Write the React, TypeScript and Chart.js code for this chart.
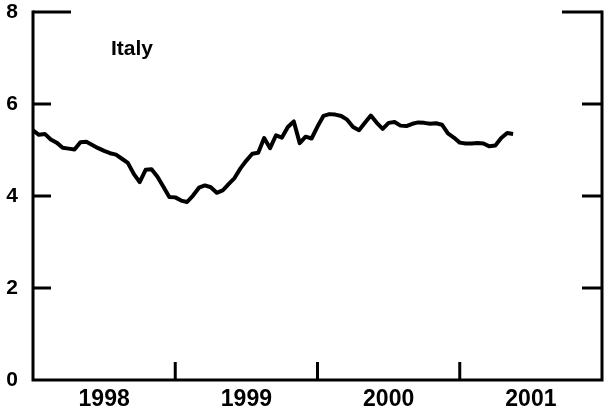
import { useEffect, useRef } from 'react';
import { Chart, registerables } from 'chart.js';

Chart.register(...registerables);

const years = ['1998', '1999', '2000', '2001'];
const periodsPerYear = 24;
const yTicks = [0, 2, 4, 6, 8];
const seriesLabel = 'Italy';
// semi-monthly values, Jan 1998 onwards
const yields = [
  5.43, 5.33, 5.35, 5.23, 5.16, 5.05, 5.03, 5.01, 5.17, 5.18,
  5.11, 5.04, 4.98, 4.93, 4.90, 4.81, 4.72, 4.48, 4.30, 4.57,
  4.58, 4.42, 4.20, 3.98, 3.97, 3.90, 3.87, 4.01, 4.18, 4.23,
  4.19, 4.07, 4.12, 4.26, 4.39, 4.60, 4.77, 4.92, 4.94, 5.26,
  5.04, 5.32, 5.27, 5.50, 5.62, 5.15, 5.29, 5.25, 5.51, 5.74,
  5.78, 5.77, 5.74, 5.66, 5.50, 5.43, 5.59, 5.75, 5.59, 5.46,
  5.59, 5.61, 5.53, 5.52, 5.57, 5.60, 5.59, 5.57, 5.58, 5.55,
  5.36, 5.27, 5.16, 5.14, 5.14, 5.15, 5.14, 5.08, 5.10, 5.26,
  5.37, 5.35,
];

const FONT = '"Liberation Sans", Arial, Helvetica, sans-serif';

export default function App() {
  const ref = useRef<HTMLCanvasElement>(null);

  useEffect(() => {
    document.body.style.margin = '0';
    const canvas = ref.current;
    if (!canvas) return;
    const data = yields.map((v, i) => ({ x: i, y: v }));
    const total = years.length * periodsPerYear;

    const framePlugin = {
      id: 'frame',
      afterDraw(chart: any) {
        const { ctx, chartArea: a, scales } = chart;
        const ys = scales.y;
        const xs = scales.x;
        ctx.save();
        ctx.strokeStyle = '#000';
        ctx.lineWidth = 3;
        ctx.lineCap = 'butt';
        ctx.beginPath();
        ctx.moveTo(a.left, a.top - 1.5);
        ctx.lineTo(a.left, a.bottom);
        ctx.lineTo(a.right, a.bottom);
        ctx.lineTo(a.right, a.top - 1.5);
        ctx.stroke();
        yTicks.forEach((t) => {
          if (t === 0) return;
          const py = ys.getPixelForValue(t);
          const lenL = t === 8 ? 38 : 18;
          const lenR = t === 8 ? 40 : 20;
          ctx.beginPath();
          ctx.moveTo(a.left, py);
          ctx.lineTo(a.left + lenL, py);
          ctx.moveTo(a.right, py);
          ctx.lineTo(a.right - lenR, py);
          ctx.stroke();
        });
        for (let k = 1; k < years.length; k++) {
          const px = xs.getPixelForValue(k * periodsPerYear);
          ctx.beginPath();
          ctx.moveTo(px, a.bottom);
          ctx.lineTo(px, a.bottom - 18);
          ctx.stroke();
        }
        ctx.fillStyle = '#000';
        ctx.font = `bold 21px ${FONT}`;
        ctx.textBaseline = 'alphabetic';
        ctx.textAlign = 'left';
        ctx.fillText(seriesLabel, a.left + 78, a.top + 43);
        ctx.restore();
      },
    };

    const chart = new Chart(canvas, {
      type: 'line',
      data: {
        datasets: [
          {
            data,
            borderColor: '#000',
            borderWidth: 4,
            pointRadius: 0,
            tension: 0,
            fill: false,
            borderJoinStyle: 'round',
          },
        ],
      },
      options: {
        animation: false,
        responsive: false,
        maintainAspectRatio: false,
        layout: { padding: { top: 12, right: 3, left: 0, bottom: 0 } },
        plugins: { legend: { display: false }, tooltip: { enabled: false } },
        scales: {
          x: {
            type: 'linear',
            min: 0,
            max: total,
            grid: { display: false, drawTicks: false },
            border: { display: false },
            afterBuildTicks: (scale: any) => {
              scale.ticks = years.map((_, k) => ({ value: k * periodsPerYear + periodsPerYear / 2 }));
            },
            afterFit: (scale: any) => {
              scale.height = 28;
              scale.paddingLeft = 0;
              scale.paddingRight = 0;
            },
            ticks: {
              padding: 6,
              color: '#000',
              font: { family: FONT, size: 23, weight: 'bold' },
              maxRotation: 0,
              autoSkip: false,
              callback: (v: any) => years[Math.floor(Number(v) / periodsPerYear)] ?? '',
            },
          },
          y: {
            min: 0,
            max: 8,
            grid: { display: false, drawTicks: false },
            border: { display: false },
            afterBuildTicks: (scale: any) => {
              scale.ticks = yTicks.map((v) => ({ value: v }));
            },
            afterFit: (scale: any) => {
              scale.width = 33;
              scale.paddingTop = 0;
              scale.paddingBottom = 0;
            },
            ticks: {
              padding: 15,
              color: '#000',
              font: { family: FONT, size: 21, weight: 'bold' },
              callback: (v: any) => String(v),
            },
          },
        },
      },
      plugins: [framePlugin],
    });
    return () => chart.destroy();
  }, []);

  return (
    <div style={{ position: 'absolute', left: 0, top: 0, width: 605, height: 408, background: '#fff' }}>
      <canvas ref={ref} width={605} height={408} style={{ display: 'block' }} />
    </div>
  );
}
